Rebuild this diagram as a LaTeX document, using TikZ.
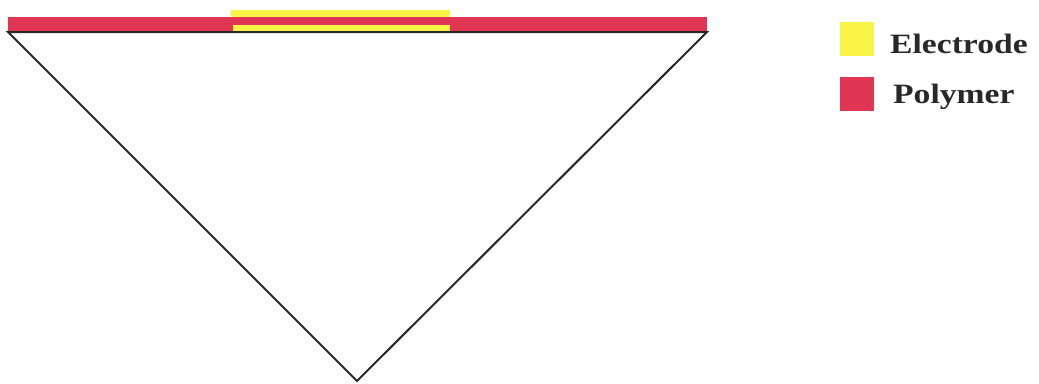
\documentclass[tikz,border=0pt]{standalone}
\usepackage{fontspec}
\setmainfont{Liberation Serif}
\definecolor{poly}{RGB}{224,54,84}
\definecolor{elec}{RGB}{248,245,70}
\definecolor{ink}{RGB}{40,40,40}
\begin{document}
\begin{tikzpicture}[x=1pt,y=-1pt,
  legtext/.style={anchor=base west,inner sep=0pt,text=ink,font=\fontsize{28}{30}\selectfont\bfseries},
  legbox/.style={minimum width=34pt,minimum height=34pt,inner sep=0pt,draw=none}]
\useasboundingbox (0,0) rectangle (1039,383);
% electrode top part
\fill[elec] (231,10) rectangle (450,17.5);
% polymer layer
\fill[poly] (8,17) rectangle (707,31);
% electrode lower part inside polymer
\fill[elec] (233,24.5) rectangle (450,31.5);
% triangle (substrate)
\draw[ink,line width=2pt,line join=miter] (8,32) -- (707,32) -- (357,381) -- cycle;
% legend
\node[legbox,fill=elec] (lege) at (857,39) {};
\node[legbox,fill=poly] (legp) at (857,94) {};
\node[legtext] (te) at (890,53) {\scalebox{1.2}[1]{Electrode}};
\node[legtext] (tp) at (893,103) {\scalebox{1.2}[1]{Polymer}};
\end{tikzpicture}
\end{document}
